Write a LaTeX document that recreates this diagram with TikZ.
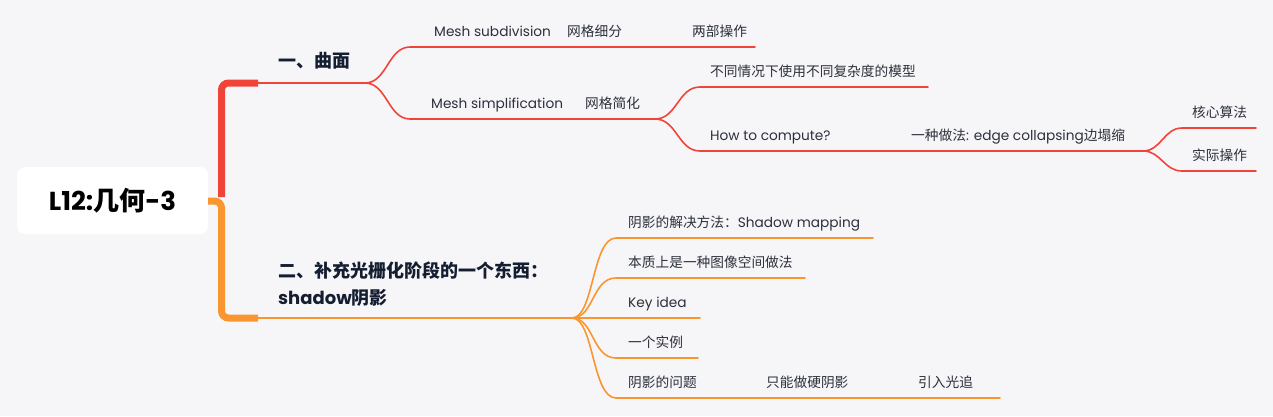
\documentclass[tikz,border=0pt]{standalone}
\usepackage{fontspec}
\setmainfont{Poppins}
\newfontfamily\cjk{Noto Sans CJK SC}
\usetikzlibrary{positioning}
\definecolor{bgcol}{RGB}{246,246,249}
\definecolor{redbr}{RGB}{240,68,56}
\definecolor{orgbr}{RGB}{250,150,48}
\definecolor{inkdark}{RGB}{20,30,48}
\definecolor{inktxt}{RGB}{44,48,58}
\newcommand{\zh}[1]{{\cjk #1}}
\tikzset{
  % the root card on the left
  rootbox/.style={fill=white, rounded corners=8pt, minimum width=191pt,
    minimum height=67pt, text=black, font=\fontsize{26}{30}\selectfont\bfseries},
  % section titles
  titletxt/.style={anchor=west, text=inkdark, align=left, inner sep=0pt,
    font=\fontsize{18}{27}\selectfont\bfseries},
  % leaf labels sit on their line
  leaftxt/.style={anchor=base west, text=inktxt, inner sep=0pt,
    font=\fontsize{13.7}{16}\selectfont},
  % thick trunk and thin branches
  trunk/.style={line width=7pt, rounded corners=7pt},
  twig/.style={line width=1.6pt, line cap=round},
}
\begin{document}
\begin{tikzpicture}[x=1pt, y=-1pt]
  \fill[bgcol] (0,0) rectangle (1273,416);
  % root
  \node[rootbox] (root) at (112.5,200.5) {L12:\zh{几何}-3};
  % trunk coordinates
  \coordinate (stub) at (208,201);
  \coordinate (bar) at (221.5,201);
  \coordinate (rtop) at (221.5,83);
  \coordinate (rend) at (258,83);
  \coordinate (obot) at (221.5,318);
  \coordinate (oend) at (258,318);
  \draw[trunk, redbr] (221.5,197) -- (rtop) -- (rend);
  \draw[trunk, orgbr] (stub) -- (bar) -- (obot) -- (oend);

  % ---- section one: surfaces
  \coordinate (ra) at (365,83);
  \coordinate (ru) at (410,47);  \coordinate (rue) at (755,47);
  \coordinate (rl) at (410,119); \coordinate (rb) at (655,119);
  \coordinate (rbu) at (700,87);  \coordinate (rbue) at (928,87);
  \coordinate (rbl) at (700,151); \coordinate (rc) at (1143,151);
  \coordinate (rcu) at (1182,128); \coordinate (rcue) at (1256,128);
  \coordinate (rcl) at (1182,171); \coordinate (rcle) at (1256,171);
  \draw[twig, redbr] (rend) -- (ra);
  \draw[twig, redbr] (ra) .. controls +(22,0) and +(-22,0) .. (ru) -- (rue);
  \draw[twig, redbr] (ra) .. controls +(22,0) and +(-22,0) .. (rl) -- (rb);
  \draw[twig, redbr] (rb) .. controls +(22,0) and +(-22,0) .. (rbu) -- (rbue);
  \draw[twig, redbr] (rb) .. controls +(22,0) and +(-22,0) .. (rbl) -- (rc);
  \draw[twig, redbr] (rc) .. controls +(18,0) and +(-18,0) .. (rcu) -- (rcue);
  \draw[twig, redbr] (rc) .. controls +(18,0) and +(-18,0) .. (rcl) -- (rcle);

  \node[titletxt] (sec1) at (278,61) {\zh{一、曲面}};
  \node[leaftxt] (subdiv) at (434,36) {Mesh subdivision};
  \node[leaftxt] (subdivzh) at (567,36) {\zh{网格细分}};
  \node[leaftxt] (twoops) at (692,36) {\zh{两部操作}};
  \node[leaftxt] (simpl) at (431,108) {Mesh simplification};
  \node[leaftxt] (simplzh) at (585,108) {\zh{网格简化}};
  \node[leaftxt] (lod) at (710,76) {\zh{不同情况下使用不同复杂度的模型}};
  \node[leaftxt] (howto) at (710,140) {How to compute?};
  \node[leaftxt] (collapse) at (911,140) {\zh{一种做法}: edge collapsing\zh{边塌缩}};
  \node[leaftxt] (core) at (1192,117) {\zh{核心算法}};
  \node[leaftxt] (practice) at (1192,160) {\zh{实际操作}};

  % ---- section two: shadows
  \coordinate (oa) at (572,318);
  \coordinate (o1) at (616,238); \coordinate (o1e) at (873,238);
  \coordinate (o2) at (616,278); \coordinate (o2e) at (805,278);
  \coordinate (o3) at (616,318); \coordinate (o3e) at (700,318);
  \coordinate (o4) at (616,358); \coordinate (o4e) at (698,358);
  \coordinate (o5) at (616,398); \coordinate (o5e) at (1000,398);
  \draw[twig, orgbr] (oend) -- (oa);
  \foreach \t in {o1,o2,o3,o4,o5}
    \draw[twig, orgbr] (oa) .. controls +(22,0) and +(-24,0) .. (\t) -- (\t e);

  \node[titletxt] (sec2) at (278,284) {\zh{二、补充光栅化阶段的一个东西：}\\shadow\zh{阴影}};
  \node[leaftxt] (smap) at (628,227) {\zh{阴影的解决方法：}Shadow mapping};
  \node[leaftxt] (imgspace) at (628,267) {\zh{本质上是一种图像空间做法}};
  \node[leaftxt] (keyidea) at (628,307) {Key idea};
  \node[leaftxt] (example) at (628,347) {\zh{一个实例}};
  \node[leaftxt] (issue) at (628,387) {\zh{阴影的问题}};
  \node[leaftxt] (hard) at (766,387) {\zh{只能做硬阴影}};
  \node[leaftxt] (raytr) at (918,387) {\zh{引入光追}};
\end{tikzpicture}
\end{document}
